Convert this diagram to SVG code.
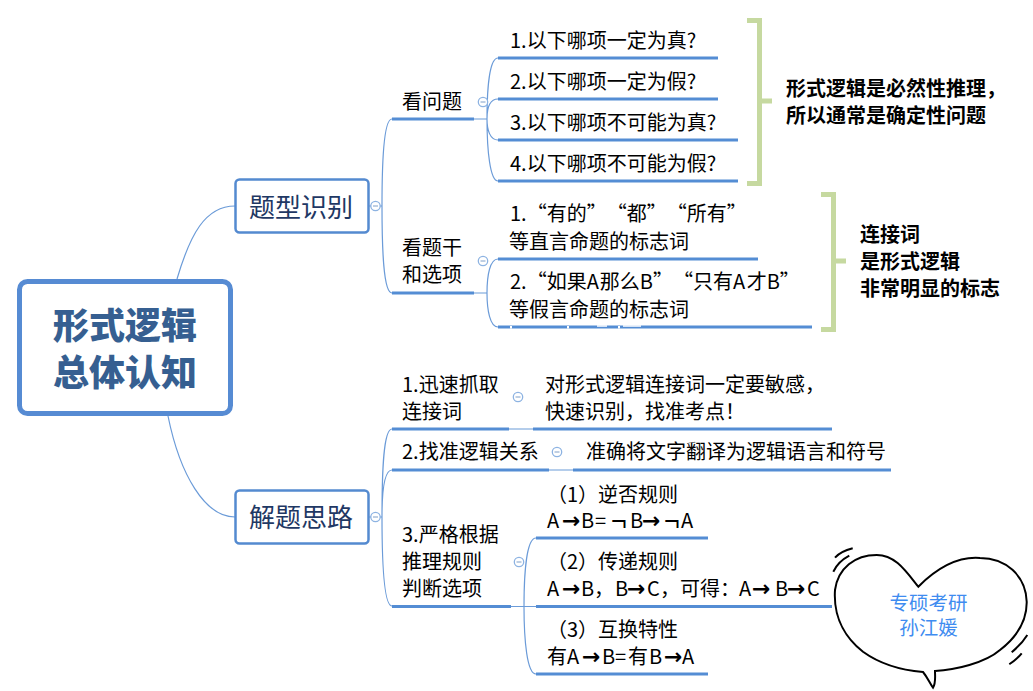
<svg xmlns="http://www.w3.org/2000/svg" width="1033" height="691" viewBox="0 0 1033 691">
<defs><g id="fold"><circle r="4.7" fill="#fff" stroke="#8db3e2" stroke-width="1.3"/><path d="M-2.500 0H2.500" stroke="#7f9fc8" stroke-width="1"/></g></defs>
<style>
text{font-family:"Noto Sans CJK SC","Liberation Sans",sans-serif;font-size:20px;fill:#000;text-spacing-trim:space-all}
.thin{fill:none;stroke:#6b9bd8;stroke-width:1.2}
.thick{fill:none;stroke:#548dd4;stroke-width:3}
.brk{fill:none;stroke:#c6d9a0;stroke-width:5}
.box{fill:#fff;stroke:#548ad0;stroke-width:2.500}
.l1{font-size:26px;fill:#1f3864}
.root{font-size:36px;font-weight:900;fill:#365f91;text-anchor:middle}
.b{font-weight:700}
.sig{font-size:19.500px;fill:#3f8cf0;text-anchor:middle}
.arr{font-family:"DejaVu Sans",sans-serif;font-weight:700;font-size:22px}
.neg{font-family:"Liberation Sans",sans-serif;font-size:27px}
</style>
<rect width="1033" height="691" fill="#fff"/>
<g id="connectors">
<path class="thin" d="M177 279C190 235 205 206 235 206M168 416C180 475 205 517 235 517"/>
<path class="thin" d="M368 206H382M382 206C382 165 383.500 119 392 119M382 206C382 250 383.500 293 392 293"/>
<path class="thin" d="M368 517H382M382 517C382 470 383.500 429 392 429M382 517C382 495 383.500 470 392 470M382 517C382 560 383.500 606 392 606"/>
<path class="thin" d="M474 119H487M487 119C487 85 490 58 498 58M487 119C487 108 490 99 498 99M487 119C487 130 490 140 498 140M487 119C487 150 490 181 498 181"/>
<path class="thin" d="M474 293H487M487 293C487 275 490 259 498 259M487 293C487 310 490 327 498 327"/>
<path class="thin" d="M509 429H533M549 470H573"/>
<path class="thin" d="M511 606.500H536M524 606.500C524 570 527 538 536 538M524 606.500C524 640 527 674 536 674"/>
<path class="thick" d="M392 119H474M498 58H718M498 99H718M498 140H738M498 181H738"/>
<path class="thick" d="M392 293H474M498 259H758M498 327H812"/>
<path class="thick" d="M392 429H509M533 429H832M392 470H549M573 470H891"/>
<path class="thick" d="M392 606.500H511M536 538H708M536 606.500H832M536 674H708"/>
<path d="M511 326V328.500M568 326V328.500M619 326V328.500" stroke="#fff" stroke-width="2" fill="none"/>
<path d="M597 326H607M623 326H641" stroke="#fff" stroke-width="1.500" fill="none"/>
<path class="brk" d="M747 20.500H759.500V183.500H747M759.500 101H772"/>
<path class="brk" d="M821 194.500H833.500V329.500H821M833.500 261H846"/>
</g>
<use href="#fold" x="375.500" y="206"/>
<use href="#fold" x="375.500" y="517"/>
<use href="#fold" x="483" y="102"/>
<use href="#fold" x="483" y="261"/>
<use href="#fold" x="518" y="397"/>
<use href="#fold" x="557" y="452"/>
<use href="#fold" x="519" y="562"/>
<g id="root"><rect x="19.500" y="281.500" width="211" height="132" rx="8" fill="#fff" stroke="#568bd3" stroke-width="5"/><text class="root" x="125" y="339">形式逻辑</text><text class="root" x="125" y="386">总体认知</text></g>
<g id="n-tixing"><rect class="box" x="235.500" y="179.500" width="133" height="53" rx="4"/><text class="l1" x="249" y="217">题型识别</text></g>
<g id="n-jieti"><rect class="box" x="235.500" y="490.500" width="133" height="53" rx="4"/><text class="l1" x="249" y="527">解题思路</text></g>
<g id="n-kanwenti"><text x="402" y="109">看问题</text></g>
<g id="n-kantigan"><text x="402" y="255">看题干</text><text x="402" y="282">和选项</text></g>
<g id="n-q1"><text x="510" y="48">1.以下哪项一定为真?</text></g>
<g id="n-q2"><text x="510" y="89">2.以下哪项一定为假?</text></g>
<g id="n-q3"><text x="510" y="130">3.以下哪项不可能为真?</text></g>
<g id="n-q4"><text x="510" y="171">4.以下哪项不可能为假?</text></g>
<g id="n-s1"><text x="510" y="221">1.“有的”“都”“所有”</text><text x="509" y="249">等直言命题的标志词</text></g>
<g id="n-s2"><text x="510" y="289">2.“如果A<tspan dx="1">那</tspan>么B”“只有A<tspan dx="1.500">才</tspan>B”</text><text x="509" y="317">等假言命题的标志词</text></g>
<g id="n-note1"><text class="b" x="786" y="96">形式逻辑是必然性推理，</text><text class="b" x="786" y="123">所以通常是确定性问题</text></g>
<g id="n-note2"><text class="b" x="860" y="242">连接词</text><text class="b" x="860" y="269">是形式逻辑</text><text class="b" x="860" y="296">非常明显的标志</text></g>
<g id="n-step1"><text x="402" y="392">1.迅速抓取</text><text x="402" y="419">连接词</text></g>
<g id="n-step1a"><text x="545" y="392">对形式逻辑连接词一定要敏感，</text><text x="545" y="419">快速识别，找准考点！</text></g>
<g id="n-step2"><text x="402" y="459">2.找准逻辑关系</text></g>
<g id="n-step2a"><text x="586" y="459">准确将文字翻译为逻辑语言和符号</text></g>
<g id="n-step3"><text x="402" y="542">3.严格根据</text><text x="402" y="569">推理规则</text><text x="402" y="596">判断选项</text></g>
<g id="n-r1"><text x="547" y="502">（1）逆否规则</text><text x="547 562 581 595 611 630 642 664 681" y="528">A<tspan class="arr">→</tspan>B=<tspan class="neg" dy="2">¬</tspan><tspan dy="-2">B</tspan><tspan class="arr">→</tspan><tspan class="neg" dy="2">¬</tspan><tspan dy="-2">A</tspan></text></g>
<g id="n-r2"><text x="547" y="569">（2）传递规则</text><text x="547 562 581 594 615 627 647 660 680 700 720 739 752 775 787 807" y="596">A<tspan class="arr">→</tspan>B，B<tspan class="arr">→</tspan>C，可得：A<tspan class="arr">→</tspan>B<tspan class="arr">→</tspan>C</text></g>
<g id="n-r3"><text x="547" y="637">（3）互换特性</text><text x="547 567 582 602 615 628 649 664 682" y="664">有A<tspan class="arr">→</tspan>B=有B<tspan class="arr">→</tspan>A</text></g>
<g id="n-heart">
<path d="M918.300 586.700C905 570 895 555 876.700 555C855 555 838 568 835 590C833 620 848 640 863 651.700C880 664 900 670 923 672C928 678 930 684 933 687.700C936 683 935 677 935 671C955 670 985 663 1000 650C1018 636 1027 620 1026.700 601.700C1026 575 1005 558 980 558C955 556 935 570 918.300 586.700Z" fill="#fff" stroke="#000" stroke-width="2"/>
<path d="M835 557.700C840 552 846 550 852.700 548.300M833.300 571.700C837 564 843 559 849.300 555.700M1011.700 652.300C1018 647 1023 642 1027.300 635M1009.300 664.300C1014 661 1018 658 1021.700 653.300" fill="none" stroke="#000" stroke-width="2"/>
<text class="sig" x="928.500" y="610">专硕考研</text><text class="sig" x="928.500" y="635">孙江媛</text>
</g>
</svg>
